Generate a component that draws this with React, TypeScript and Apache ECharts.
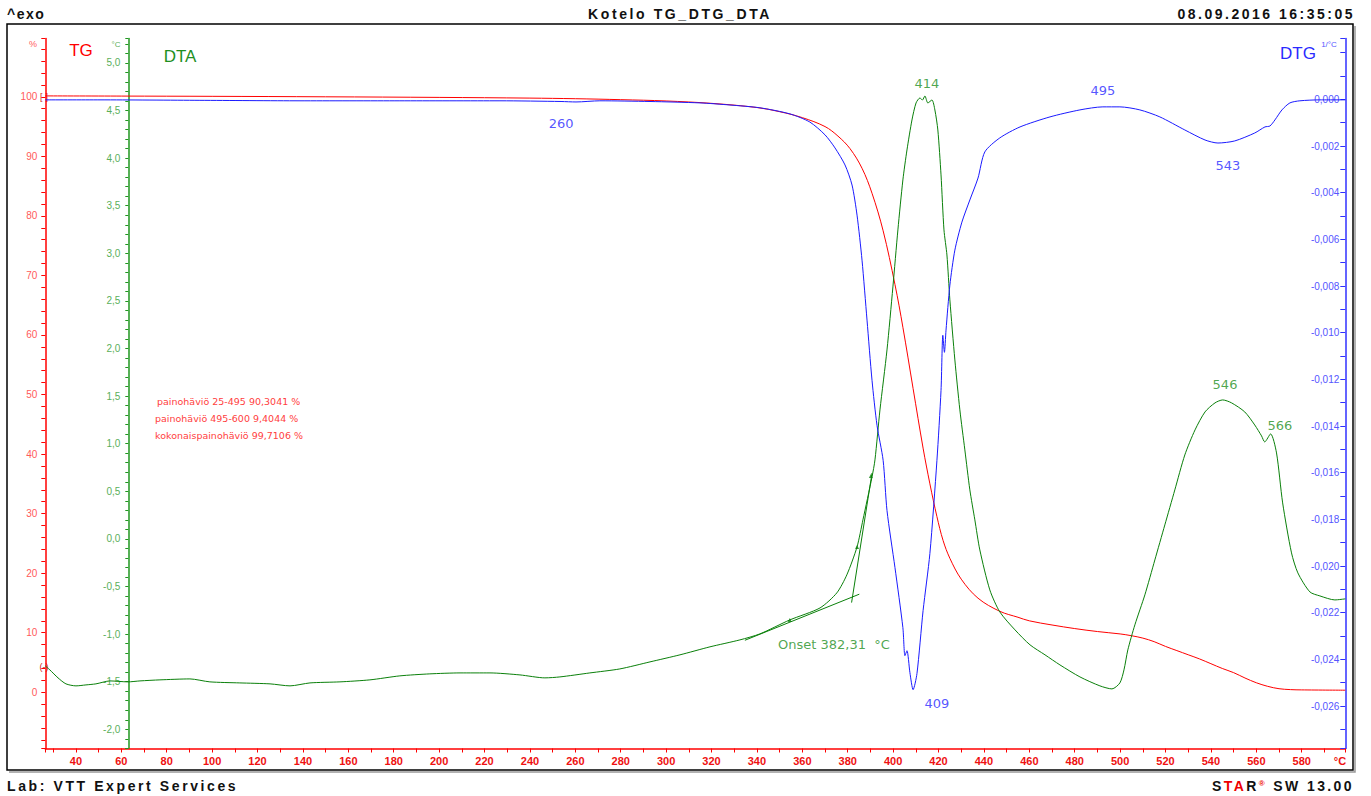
import React, { useEffect, useRef } from 'react';
import * as echarts from 'echarts';

// ---------- data (temperature in °C) ----------
const TG_T = [26.5, 60, 100, 150, 200, 240, 260, 280, 300, 320, 340, 350, 360, 370, 375.7, 381, 386.3, 390.7, 395.6, 400.8, 404.3, 408.8, 413.2, 416.2, 419.3, 422, 425, 430, 437.4, 447, 455, 460, 470, 480, 490, 500, 505, 510, 515, 520, 525, 530, 535, 540, 545, 550, 555, 560, 565, 570, 575, 580, 599.2];
const TG_PCT = [100.15, 100.12, 100.08, 100.0, 99.9, 99.78, 99.68, 99.52, 99.3, 98.9, 98.2, 97.5, 96.5, 95.0, 93.4, 91.3, 88.0, 83.8, 77.5, 68.5, 61.3, 51.0, 41.0, 35.0, 29.5, 25.5, 22.5, 19.0, 15.8, 13.6, 12.6, 12.0, 11.3, 10.7, 10.2, 9.8, 9.5, 9.1, 8.5, 7.7, 7.0, 6.3, 5.6, 4.8, 4.0, 3.3, 2.4, 1.6, 1.0, 0.6, 0.45, 0.4, 0.35];

const DTG_T = [26.5, 50.6, 94.6, 138.7, 182.7, 226.8, 253.7, 260.3, 270.8, 292.9, 314.9, 328.1, 341.3, 354.5, 363.3, 370, 374.4, 378.8, 381.9, 384.1, 386.3, 388.5, 390.7, 392.9, 395.6, 397.3, 400.8, 404.3, 405.2, 406.1, 407.4, 408.8, 410.5, 413.2, 416.2, 419.3, 421.1, 421.9, 422.6, 423.3, 425, 427.2, 430.3, 433.8, 437.4, 440.4, 447, 455.9, 469.1, 482.3, 492.4, 499.9, 508.7, 517.5, 528.5, 537.4, 543.1, 550.5, 559.3, 563.8, 566, 568.2, 571.3, 574.8, 579.2, 588, 599.2];
const DTG_VAL = [-0.00002, -0.00002, -0.00004, -0.00006, -0.00006, -0.00006, -0.00009, -0.00011, -0.00006, -0.00009, -0.00015, -0.00024, -0.00036, -0.00062, -0.00097, -0.00152, -0.00208, -0.00281, -0.00367, -0.00496, -0.00689, -0.00946, -0.01204, -0.01397, -0.01547, -0.01762, -0.02006, -0.02264, -0.02384, -0.02363, -0.02457, -0.0253, -0.02461, -0.02191, -0.01946, -0.01547, -0.01247, -0.01011, -0.01084, -0.00989, -0.00796, -0.00646, -0.00526, -0.00431, -0.00337, -0.00225, -0.00165, -0.00118, -0.00075, -0.00045, -0.00032, -0.00032, -0.00045, -0.00075, -0.00131, -0.00174, -0.00187, -0.00178, -0.00144, -0.00118, -0.00114, -0.00088, -0.00045, -0.00015, -0.00006, -0.00002, -0.00002];

const DTA_T = [26.5, 28.5, 32.1, 35.6, 40, 44.4, 48.8, 55.0, 62.9, 68.2, 77.0, 90.2, 99.0, 112.2, 125.5, 134.3, 143.1, 156.3, 169.5, 182.7, 195.9, 209.2, 222.4, 235.6, 246.6, 253.2, 266.4, 279.6, 292.9, 306.1, 319.3, 332.5, 341.3, 354.5, 367.8, 375.2, 379.6, 384.1, 386.7, 390.7, 392.0, 394.2, 397.3, 399.9, 402.1, 404.3, 406.1, 408.3, 410.1, 411.8, 412.9, 414.0, 415.3, 417.1, 418.4, 419.7, 421.1, 422.4, 423.7, 425.0, 427.2, 429.4, 431.6, 433.8, 436.0, 438.2, 442.6, 447.0, 453.7, 460.3, 466.9, 473.5, 482.3, 491.1, 496.4, 499.9, 501.7, 503.4, 506.5, 510.9, 515.3, 519.7, 524.1, 528.5, 533.0, 537.4, 541.8, 545.2, 549.1, 554.9, 559.3, 562.3, 563.7, 566.3, 568.9, 571.6, 575.5, 578.3, 583.6, 588.0, 594.6, 599.2];
const DTA_VAL = [-1.334, -1.376, -1.460, -1.523, -1.544, -1.534, -1.523, -1.492, -1.502, -1.492, -1.481, -1.471, -1.502, -1.513, -1.523, -1.544, -1.513, -1.502, -1.481, -1.439, -1.418, -1.408, -1.408, -1.429, -1.460, -1.450, -1.408, -1.366, -1.292, -1.218, -1.134, -1.061, -0.998, -0.851, -0.725, -0.567, -0.378, -0.084, 0.200, 0.651, 0.830, 1.355, 1.985, 2.647, 3.246, 3.771, 4.086, 4.401, 4.580, 4.632, 4.611, 4.653, 4.580, 4.611, 4.506, 4.296, 3.824, 3.246, 2.983, 2.511, 1.880, 1.355, 0.935, 0.515, 0.200, -0.116, -0.536, -0.767, -0.956, -1.113, -1.218, -1.324, -1.450, -1.544, -1.576, -1.513, -1.376, -1.166, -0.903, -0.588, -0.221, 0.147, 0.515, 0.882, 1.145, 1.334, 1.429, 1.460, 1.429, 1.334, 1.197, 1.082, 1.019, 1.103, 0.903, 0.378, -0.147, -0.357, -0.557, -0.599, -0.641, -0.630];

// onset construction (DTA units)
const ONSET_BASE_T = [334.7, 385.1];
const ONSET_BASE_V = [-1.065, -0.581];
const ONSET_STEEP_T = [381.7, 390.7];
const ONSET_STEEP_V = [-0.669, 0.692];
const ONSET_MARK_T = [354.5, 384.1, 390.2];
const ONSET_MARK_V = [-0.851, -0.084, 0.66];

// annotation labels
const DTG_LABEL_T = [253.7, 492.4, 547.5, 419.3];
const DTG_LABEL_V = [-0.00105, 0.00036, -0.00285, -0.0259];
const DTG_LABEL_TEXT = ['260', '495', '543', '409'];
const DTA_LABEL_T = [414.9, 546.2, 570.4, 373.9];
const DTA_LABEL_V = [4.78, 1.62, 1.19, -1.11];
const DTA_LABEL_TEXT = ['414', '546', '566', 'Onset 382,31  °C'];

const RESULT_LINES = [
  'painohäviö 25-495 90,3041 %',
  'painohäviö 495-600 9,4044 %',
  'kokonaispainohäviö 99,7106 %',
];

// axis ranges
const X_MIN = 26.5, X_MAX = 599.2;
const TG_MIN = -9.44, TG_MAX = 109.79;
const DTA_MIN = -2.202, DTA_MAX = 5.257;
const DTG_MIN = -0.02782, DTG_MAX = 0.00261;

const zip = (a: number[], b: number[]) => a.map((v, i) => [v, b[i]]);
const isMult = (v: number, step: number) => Math.abs(v / step - Math.round(v / step)) < 1e-6;
const comma = (v: number, d: number) => {
  const x = Math.abs(v) < 1e-9 ? 0 : v;
  return x.toFixed(d).replace('.', ',');
};

const RED = '#ff0000';
const GREEN = '#0a800a';
const BLUE = '#1a1aff';

export default function App() {
  const ref = useRef<HTMLDivElement>(null);
  useEffect(() => {
    const chart = echarts.init(ref.current!, null, { renderer: 'svg', width: 1371, height: 796 });
    const option: any = {
      animation: false,
      grid: { left: 45.3, right: 25.7, top: 38.5, bottom: 47.5 },
      xAxis: {
        type: 'value', min: X_MIN, max: X_MAX, minInterval: 10, maxInterval: 10,
        axisLine: { onZero: false, lineStyle: { color: RED, width: 1.5 } },
        axisTick: { length: 4, lineStyle: { color: RED } },
        splitLine: { show: false },
        axisLabel: {
          formatter: (v: number) => (isMult(v, 20) ? String(Math.round(v)) : ''),
          color: '#ee1111', fontWeight: 'bold', fontSize: 11, fontFamily: 'Liberation Sans', margin: 7,
        },
      },
      yAxis: [
        {
          type: 'value', position: 'left', min: TG_MIN, max: TG_MAX, minInterval: 2, maxInterval: 2,
          axisLine: { show: true, onZero: false, lineStyle: { color: RED, width: 1.5 } },
          axisTick: { show: true, length: 4, lineStyle: { color: RED } },
          splitLine: { show: false },
          axisLabel: {
            formatter: (v: number) => (isMult(v, 10) ? String(Math.round(v)) : ''),
            color: '#ff5a5a', fontSize: 10, fontFamily: 'Liberation Sans', margin: 8,
          },
        },
        {
          type: 'value', position: 'left', offset: -83, min: DTA_MIN, max: DTA_MAX, minInterval: 0.1, maxInterval: 0.1,
          axisLine: { show: true, onZero: false, lineStyle: { color: '#1f961f', width: 1.5 } },
          axisTick: { show: true, length: 3, lineStyle: { color: '#1f961f' } },
          splitLine: { show: false },
          axisLabel: {
            formatter: (v: number) => (isMult(v, 0.5) ? comma(v, 1) : ''),
            color: '#5aaf5a', fontSize: 10, fontFamily: 'Liberation Sans', margin: 8,
          },
        },
        {
          type: 'value', position: 'right', min: DTG_MIN, max: DTG_MAX, minInterval: 0.001, maxInterval: 0.001,
          axisLine: { show: true, onZero: false, lineStyle: { color: '#3030ff', width: 1.5 } },
          axisTick: { show: true, inside: true, length: 5, lineStyle: { color: '#3030ff' } },
          splitLine: { show: false },
          axisLabel: {
            inside: true,
            formatter: (v: number) => (isMult(v, 0.002) && v < 0.001 ? comma(v, 3) : ''),
            color: '#5555ff', fontSize: 10, fontFamily: 'Liberation Sans', margin: 6,
          },
        },
      ],
      series: [
        {
          name: 'TG', type: 'line', yAxisIndex: 0, data: zip(TG_T, TG_PCT), symbol: 'none',
          smooth: 0.35, lineStyle: { color: RED, width: 1 }, itemStyle: { color: RED }, silent: true,
        },
        {
          name: 'DTA', type: 'line', yAxisIndex: 1, data: zip(DTA_T, DTA_VAL), symbol: 'none',
          smooth: 0.25, lineStyle: { color: GREEN, width: 1 }, itemStyle: { color: GREEN }, silent: true,
        },
        {
          name: 'DTG', type: 'line', yAxisIndex: 2, data: zip(DTG_T, DTG_VAL), symbol: 'none',
          smooth: 0.25, lineStyle: { color: BLUE, width: 1 }, itemStyle: { color: BLUE }, silent: true,
        },
        {
          type: 'line', yAxisIndex: 1, data: zip(ONSET_BASE_T, ONSET_BASE_V), symbol: 'none',
          lineStyle: { color: GREEN, width: 1 }, silent: true,
        },
        {
          type: 'line', yAxisIndex: 1, data: zip(ONSET_STEEP_T, ONSET_STEEP_V), symbol: 'none',
          lineStyle: { color: GREEN, width: 1 }, silent: true,
        },
        {
          type: 'scatter', yAxisIndex: 1, data: zip(ONSET_MARK_T, ONSET_MARK_V), symbol: 'triangle', symbolSize: 4,
          itemStyle: { color: GREEN }, silent: true,
        },
        {
          type: 'scatter', yAxisIndex: 2, symbolSize: 1, silent: true,
          itemStyle: { color: 'rgba(0,0,0,0)' },
          data: DTG_LABEL_T.map((t, i) => ({ value: [t, DTG_LABEL_V[i]], name: DTG_LABEL_TEXT[i] })),
          label: { show: true, position: 'inside', formatter: '{b}', color: '#2a2aff', fontSize: 13, fontFamily: 'DejaVu Sans' },
        },
        {
          type: 'scatter', yAxisIndex: 1, symbolSize: 1, silent: true,
          itemStyle: { color: 'rgba(0,0,0,0)' },
          data: DTA_LABEL_T.map((t, i) => ({ value: [t, DTA_LABEL_V[i]], name: DTA_LABEL_TEXT[i] })),
          label: { show: true, position: 'inside', formatter: '{b}', color: '#1f8f1f', fontSize: 13, fontFamily: 'DejaVu Sans' },
        },
      ],
      graphic: [
        { type: 'rect', shape: { x: 7, y: 24, width: 1346, height: 746 }, style: { fill: 'none', stroke: '#000', lineWidth: 1.5 }, silent: true },
        { type: 'polyline', shape: { points: [[1355, 26], [1355, 772], [9, 772]] }, style: { fill: 'none', stroke: '#999', lineWidth: 1.5 }, silent: true },
        { type: 'text', x: 33, y: 44, style: { text: '%', fill: '#ff5a5a', font: '9px "Liberation Sans"', textAlign: 'center', textVerticalAlign: 'middle' } },
        { type: 'text', x: 81, y: 50, style: { text: 'TG', fill: RED, font: '17px "Liberation Sans"', textAlign: 'center', textVerticalAlign: 'middle' } },
        { type: 'text', x: 116, y: 44, style: { text: '°C', fill: '#5aaf5a', font: '8px "Liberation Sans"', textAlign: 'center', textVerticalAlign: 'middle' } },
        { type: 'text', x: 180, y: 56, style: { text: 'DTA', fill: '#1f8f1f', font: '17px "Liberation Sans"', textAlign: 'center', textVerticalAlign: 'middle' } },
        { type: 'text', x: 1298, y: 53, style: { text: 'DTG', fill: '#2a2aff', font: '17px "Liberation Sans"', textAlign: 'center', textVerticalAlign: 'middle' } },
        { type: 'text', x: 1329, y: 44, style: { text: '1/°C', fill: '#5555ff', font: '8px "Liberation Sans"', textAlign: 'center', textVerticalAlign: 'middle' } },
        { type: 'text', x: 1340, y: 761, style: { text: '°C', fill: '#ee1111', font: 'bold 11px "Liberation Sans"', textAlign: 'center', textVerticalAlign: 'middle' } },
        { type: 'text', x: 44, y: 97, style: { text: '[-]', fill: '#cc2222', font: '9px "Liberation Sans"', textAlign: 'center', textVerticalAlign: 'middle' } },
        { type: 'text', x: 44, y: 667, style: { text: '(-)', fill: '#cc2222', font: '9px "Liberation Sans"', textAlign: 'center', textVerticalAlign: 'middle' } },
        ...RESULT_LINES.map((t, i) => ({
          type: 'text', x: i === 0 ? 157 : 155, y: 401 + i * 17,
          style: { text: t, fill: '#ff4040', font: '9.5px "DejaVu Sans"', textAlign: 'left', textVerticalAlign: 'middle' },
        })),
      ],
    };
    chart.setOption(option);
    return () => chart.dispose();
  }, []);

  const hdr: React.CSSProperties = {
    position: 'absolute', top: 6, font: 'bold 14px "Liberation Sans", Arial, sans-serif',
    lineHeight: '16px', color: '#111', whiteSpace: 'nowrap',
  };
  return (
    <div style={{ position: 'fixed', left: 0, top: 0, width: 1371, height: 796, background: '#fff', overflow: 'hidden' }}>
      <div ref={ref} style={{ position: 'absolute', left: 0, top: 0, width: 1371, height: 796 }} />
      <div style={{ ...hdr, left: 7, letterSpacing: '1.5px' }}>^exo</div>
      <div style={{ ...hdr, left: 480, width: 400, textAlign: 'center', letterSpacing: '2.6px' }}>Kotelo TG_DTG_DTA</div>
      <div style={{ ...hdr, right: 16, letterSpacing: '2.5px' }}>08.09.2016 16:35:05</div>
      <div style={{ ...hdr, top: 778, left: 7, letterSpacing: '2.6px' }}>Lab: VTT Expert Services</div>
      <div style={{ ...hdr, top: 778, right: 17, letterSpacing: '2.4px' }}>
        S<span style={{ color: '#ee0000' }}>TA</span>R<sup style={{ color: '#ee0000', fontSize: 8, verticalAlign: 'top', lineHeight: '12px' }}>®</sup> SW 13.00
      </div>
    </div>
  );
}
